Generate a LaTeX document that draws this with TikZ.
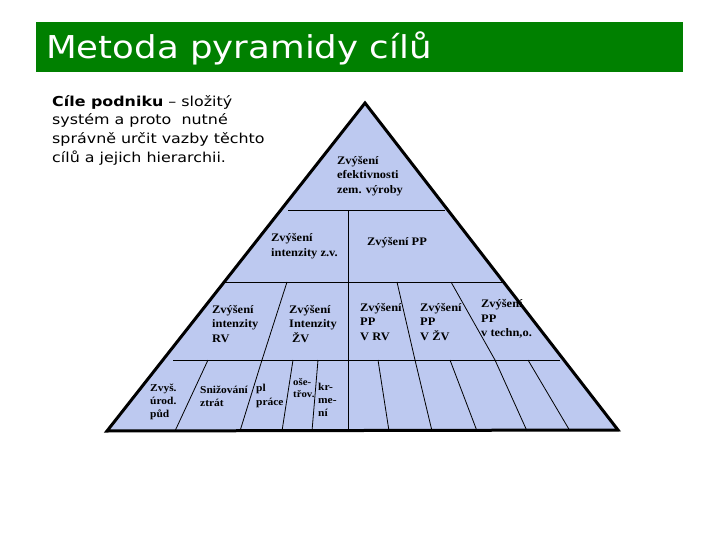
\documentclass[tikz,border=0pt]{standalone}
\usepackage{fontspec}
\setmainfont{Liberation Serif}
\newfontfamily\tnr{Liberation Serif}[FakeStretch=1.08]
\newfontfamily\verd{DejaVu Sans}[FakeStretch=1.16]
\newfontfamily\ttlfont{DejaVu Sans}[FakeStretch=1.13]
\definecolor{pyrfill}{RGB}{189,201,240}
\definecolor{titlegreen}{RGB}{0,128,0}
\begin{document}
\begin{tikzpicture}[x=1pt,y=-1pt,
  lbl/.style={font=\tnr\bfseries\fontsize{11.5}{14.5}\selectfont, align=left, anchor=west, inner sep=0pt},
  lowlbl/.style={lbl, font=\tnr\bfseries\fontsize{10.6}{13.3}\selectfont},
  divline/.style={line width=0.8pt, black},
  outline/.style={line width=3pt, black, line join=miter}]
\useasboundingbox (0,0) rectangle (720,540);
% title bar
\node (titlebar) [fill=titlegreen, minimum width=647pt, minimum height=50pt, anchor=north west, inner sep=0pt] at (36,22) {};
\node (title) [anchor=base west, inner sep=0pt, text=white, font=\ttlfont\fontsize{31.5}{36}\selectfont] at (46,59) {Metoda pyramidy cílů};
% intro text
\node (intro) [anchor=west, align=left, inner sep=0pt, font=\verd\fontsize{13.7}{18.7}\selectfont] at (52,130)
  {\textbf{Cíle podniku} – složitý\\systém a proto\ \ nutné\\správně určit vazby těchto\\cílů a jejich hierarchii.};
% pyramid
\coordinate (apex) at (365,103);
\coordinate (bl) at (107,431);
\coordinate (br) at (618,430);
\fill[pyrfill] (apex) -- (bl) -- (br) -- cycle;
% horizontal dividers
\draw[divline] (288,210.5) -- (445,210.5);
\draw[divline] (225,282) -- (504,282);
\draw[divline] (173,360) -- (560,360);
% vertical divider
\draw[divline] (348,210.5) -- (348,431);
% level 3 slants
\draw[divline] (287,282) -- (262,360);
\draw[divline] (397,282) -- (415,360);
\draw[divline] (451,282) -- (495,360);
% level 4 slants
\draw[divline] (208,360) -- (175,431);
\draw[divline] (262,360) -- (240,431);
\draw[divline] (293,360) -- (282,431);
\draw[divline] (318,360) -- (312,431);
\draw[divline] (378,360) -- (389,431);
\draw[divline] (415,360) -- (432,431);
\draw[divline] (450,360) -- (477,431);
\draw[divline] (495,360) -- (527,431);
\draw[divline] (528,360) -- (570,431);
\draw[outline] (apex) -- (bl) -- (br) -- cycle;
% labels
\node (l1) [lbl] at (337,176) {Zvýšení\\efektivnosti\\zem. výroby};
\node (l2a) [lbl] at (271,246) {Zvýšení\\intenzity z.v.};
\node (l2b) [lbl] at (367,243) {Zvýšení PP};
\node (l3a) [lbl] at (212,324) {Zvýšení\\intenzity\\RV};
\node (l3b) [lbl] at (289,324) {Zvýšení\\Intenzity\\\hspace{3pt}ŽV};
\node (l3c) [lbl] at (360,322) {Zvýšení\\PP\\V RV};
\node (l3d) [lbl] at (420,322) {Zvýšení\\PP\\V ŽV};
\node (l3e) [lbl] at (481,319) {Zvýšení\\PP\\v techn,o.};
\node (l4a) [lowlbl] at (150,402) {Zvyš.\\úrod.\\půd};
\node (l4b) [lowlbl] at (200,396) {Snižování\\ztrát};
\node (l4c) [lowlbl] at (256,396) {pl\\práce};
\node (l4d) [lbl, font=\tnr\bfseries\fontsize{10}{11.5}\selectfont] at (293,388) {oše-\\třov.};
\node (l4e) [lowlbl] at (318,400) {kr-\\me-\\ní};
\end{tikzpicture}
\end{document}
